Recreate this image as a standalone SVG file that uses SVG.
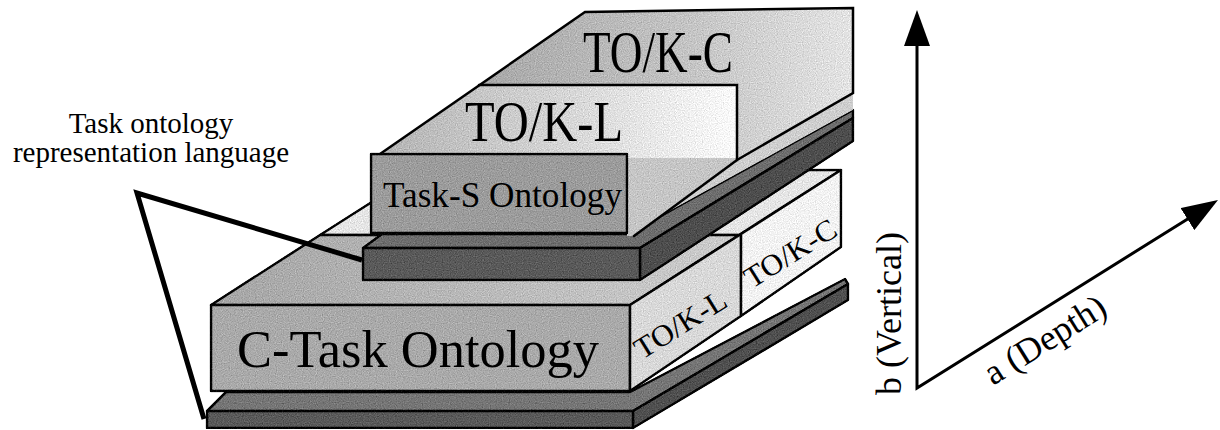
<svg xmlns="http://www.w3.org/2000/svg" width="1220" height="430" viewBox="0 0 1220 430">
<defs>
<style>
.face{stroke:#000;stroke-width:2.5;stroke-linejoin:round;filter:url(#grain)}
.plain{stroke:none;filter:url(#grain)}
.edge{fill:none;stroke:#000;stroke-width:2.5;stroke-linecap:round}
.serif{font-family:"Liberation Serif","Times New Roman",serif;fill:#000}
.leader{fill:none;stroke:#000;stroke-width:5;stroke-linejoin:miter}
.axis{fill:none;stroke:#000;stroke-width:3;marker-start:url(#arrow);marker-end:url(#arrow)}
</style>
<filter id="grain" x="-5%" y="-5%" width="110%" height="110%" color-interpolation-filters="sRGB">
<feTurbulence type="fractalNoise" baseFrequency="0.85" numOctaves="1" seed="7" result="t"/>
<feColorMatrix in="t" type="matrix" values="0.33 0.33 0.33 0 0 0.33 0.33 0.33 0 0 0.33 0.33 0.33 0 0 0 0 0 0 1" result="g"/>
<feComposite in="SourceGraphic" in2="g" operator="arithmetic" k1="0" k2="1" k3="0.6" k4="-0.3" result="c"/>
<feComposite in="c" in2="SourceAlpha" operator="in"/>
</filter>
<linearGradient id="gTopC" gradientUnits="userSpaceOnUse" x1="480" y1="0" x2="853" y2="0">
<stop offset="0" stop-color="#a8a8a8"/><stop offset="0.55" stop-color="#c4c4c4"/><stop offset="1" stop-color="#e4e4e4"/>
</linearGradient>
<linearGradient id="gTopL" gradientUnits="userSpaceOnUse" x1="380" y1="0" x2="737" y2="0">
<stop offset="0" stop-color="#b4b4b4"/><stop offset="0.6" stop-color="#dcdcdc"/><stop offset="1" stop-color="#fbfbfb"/>
</linearGradient>
<linearGradient id="gCTop" gradientUnits="userSpaceOnUse" x1="211" y1="0" x2="739" y2="0">
<stop offset="0" stop-color="#a6a6a6"/><stop offset="1" stop-color="#cdcdcd"/>
</linearGradient>
<marker id="arrow" viewBox="0 0 36 26" refX="30" refY="13" markerWidth="36" markerHeight="26" markerUnits="userSpaceOnUse" orient="auto-start-reverse">
<path d="M0,0 L36,13 L0,26 z" fill="#000"/>
</marker>
</defs>
<rect width="1220" height="430" fill="#fff"/>

<g id="lower-plate">
<polygon class="face" points="207,411 226,392 630,392 845,279 848,284 633,411" fill="#767676"/>
<polygon class="face" points="633,411 848,284 848,300 633,428" fill="#505050"/>
<rect class="face" x="207" y="411" width="426" height="17" fill="#5a5a5a"/>
</g>

<g id="c-task-ontology">
<polygon class="face" points="320,235 739,235 841,170 422,170" fill="#e6e6e6"/>
<polygon class="face" points="211,305 630,305 739,235 320,235" fill="url(#gCTop)"/>
<rect class="face" x="211" y="305" width="419" height="86" fill="#aaaaaa"/>
<polygon class="face" points="630,305 741,234 741,316 630,391" fill="#d9d9d9"/>
<polygon class="face" points="741,234 841,170 841,247 741,316" fill="#f3f3f3"/>
<text class="serif" x="237" y="367" font-size="52" textLength="362" lengthAdjust="spacingAndGlyphs">C-Task Ontology</text>
<text class="serif" font-size="30" textLength="103" lengthAdjust="spacingAndGlyphs" transform="translate(642,360) rotate(-32)">TO/K-L</text>
<text class="serif" font-size="30" textLength="103" lengthAdjust="spacingAndGlyphs" transform="translate(752,289) rotate(-32)">TO/K-C</text>
</g>

<g id="upper-plate">
<polygon class="face" points="363,248 382,234 628,234 853,110 853,118 640,248" fill="#6e6e6e"/>
<polygon class="face" points="640,248 853,118 853,141 640,280" fill="#4e4e4e"/>
<rect class="face" x="363" y="248" width="277" height="32" fill="#5a5a5a"/>
</g>

<g id="task-s-ontology">
<polygon class="plain" points="634,236 737,160 853,93 853,110 628,234" fill="#cfcfcf"/>
<polygon class="plain" points="585,12 853,8 853,93 737,160 737,85 479,85" fill="url(#gTopC)"/>
<polygon class="plain" points="380,154 479,85 737,85 737,158 627,158 627,154" fill="url(#gTopL)"/>
<polygon class="plain" points="627,158 737,158 737,160 634,236 627,236" fill="#c6c6c6"/>
<path class="edge" d="M380,154 L585,12 L853,8 L853,93 L737,160 L634,236"/>
<path class="edge" d="M479,85 L737,85 L737,160"/>
<rect class="face" x="371" y="154" width="256" height="79" fill="#9c9c9c"/>
<text class="serif" x="583" y="72" font-size="60" textLength="150" lengthAdjust="spacingAndGlyphs">TO/K-C</text>
<text class="serif" x="465" y="141" font-size="56" textLength="158" lengthAdjust="spacingAndGlyphs">TO/K-L</text>
<text class="serif" x="383" y="207" font-size="36" textLength="239" lengthAdjust="spacingAndGlyphs">Task-S Ontology</text>
</g>

<g id="connectors">
<path class="leader" d="M362,260 L137,193 L204,419"/>
</g>

<g id="language-label">
<text class="serif" x="151" y="133" font-size="29" text-anchor="middle">Task ontology</text>
<text class="serif" x="151" y="162" font-size="29" text-anchor="middle">representation language</text>
</g>

<g id="axes">
<path class="axis" d="M917,16 L917,388 L1212.9,203.2"/>
<text class="serif" font-size="36" transform="translate(901,395) rotate(-90)">b (Vertical)</text>
<text class="serif" font-size="36" transform="translate(993,386) rotate(-32)">a (Depth)</text>
</g>
</svg>
